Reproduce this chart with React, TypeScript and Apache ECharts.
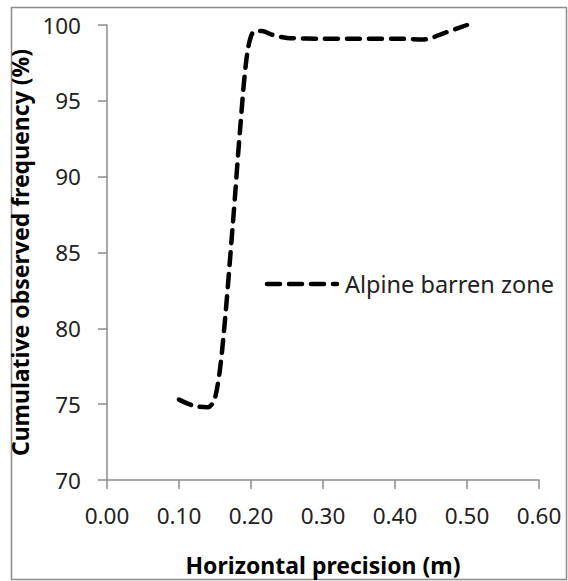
import React, { useEffect, useRef } from "react";
import * as echarts from "echarts";

const precision = [0.10, 0.12, 0.14, 0.15, 0.16, 0.175, 0.185, 0.195, 0.205, 0.215, 0.23, 0.25, 0.30, 0.35, 0.40, 0.44, 0.47, 0.50];
const frequency = [75.3, 74.9, 74.8, 75.4, 78.6, 87.0, 93.2, 98.2, 99.6, 99.6, 99.35, 99.15, 99.1, 99.1, 99.1, 99.05, 99.5, 100.0];
const seriesName = "Alpine barren zone";
const xTitle = "Horizontal precision (m)";
const yTitle = "Cumulative observed frequency (%)";

const FONT = "Noto Sans";
const AXIS_GRAY = "#8c8c8c";
const LINE_DASH = [13, 9];

export default function App() {
  const ref = useRef<HTMLDivElement>(null);
  useEffect(() => {
    document.body.style.margin = "0";
    const chart = echarts.init(ref.current!, null, { renderer: "svg" });
    const data = precision.map((x, i) => [x, frequency[i]]);
    chart.setOption({
      animation: false,
      backgroundColor: "#ffffff",
      textStyle: { fontFamily: FONT },
      grid: { left: 107, right: 29, top: 25, bottom: 93, containLabel: false },
      graphic: [
        {
          type: "rect",
          shape: { x: 11.5, y: 7.5, width: 555, height: 572 },
          style: { fill: "none", stroke: AXIS_GRAY, lineWidth: 1.5 },
          silent: true,
        },
        {
          type: "line",
          shape: { x1: 267, y1: 284, x2: 337, y2: 284 },
          style: { stroke: "#000", lineWidth: 4.5, lineDash: LINE_DASH, lineCap: "round" },
          silent: true,
        },
        {
          type: "text",
          x: 345,
          y: 284,
          style: {
            text: seriesName,
            fontFamily: FONT,
            fontSize: 23.5,
            fill: "#222",
            verticalAlign: "middle",
            align: "left",
          },
          silent: true,
        },
      ],
      xAxis: {
        type: "value",
        min: 0,
        max: 0.6,
        interval: 0.1,
        name: xTitle,
        nameLocation: "middle",
        nameGap: 73,
        nameTextStyle: { fontFamily: FONT, fontSize: 23, fontWeight: "bold", color: "#000" },
        axisLine: { show: true, lineStyle: { color: AXIS_GRAY, width: 1.5 } },
        axisTick: { show: true, inside: false, length: 9, lineStyle: { color: AXIS_GRAY, width: 1.5 } },
        axisLabel: {
          margin: 24,
          fontFamily: FONT,
          fontSize: 22.5,
          color: "#222",
          formatter: (v: number) => v.toFixed(2),
        },
        splitLine: { show: false },
      },
      yAxis: {
        type: "value",
        min: 70,
        max: 100,
        interval: 5,
        name: yTitle,
        nameLocation: "middle",
        nameGap: 72,
        nameRotate: 90,
        nameTextStyle: { fontFamily: FONT, fontSize: 23, fontWeight: "bold", color: "#000" },
        axisLine: { show: true, lineStyle: { color: AXIS_GRAY, width: 1.5 } },
        axisTick: { show: true, inside: false, length: 9, lineStyle: { color: AXIS_GRAY, width: 1.5 } },
        axisLabel: { margin: 26, fontFamily: FONT, fontSize: 22.5, color: "#222" },
        splitLine: { show: false },
      },
      series: [
        {
          name: seriesName,
          type: "line",
          data,
          smooth: 0.3,
          showSymbol: false,
          symbol: "none",
          lineStyle: { color: "#000", width: 4.5, type: LINE_DASH, cap: "round" },
          itemStyle: { color: "#000" },
        },
      ],
    });
    return () => chart.dispose();
  }, []);
  return <div ref={ref} style={{ width: 568, height: 581 }} />;
}
